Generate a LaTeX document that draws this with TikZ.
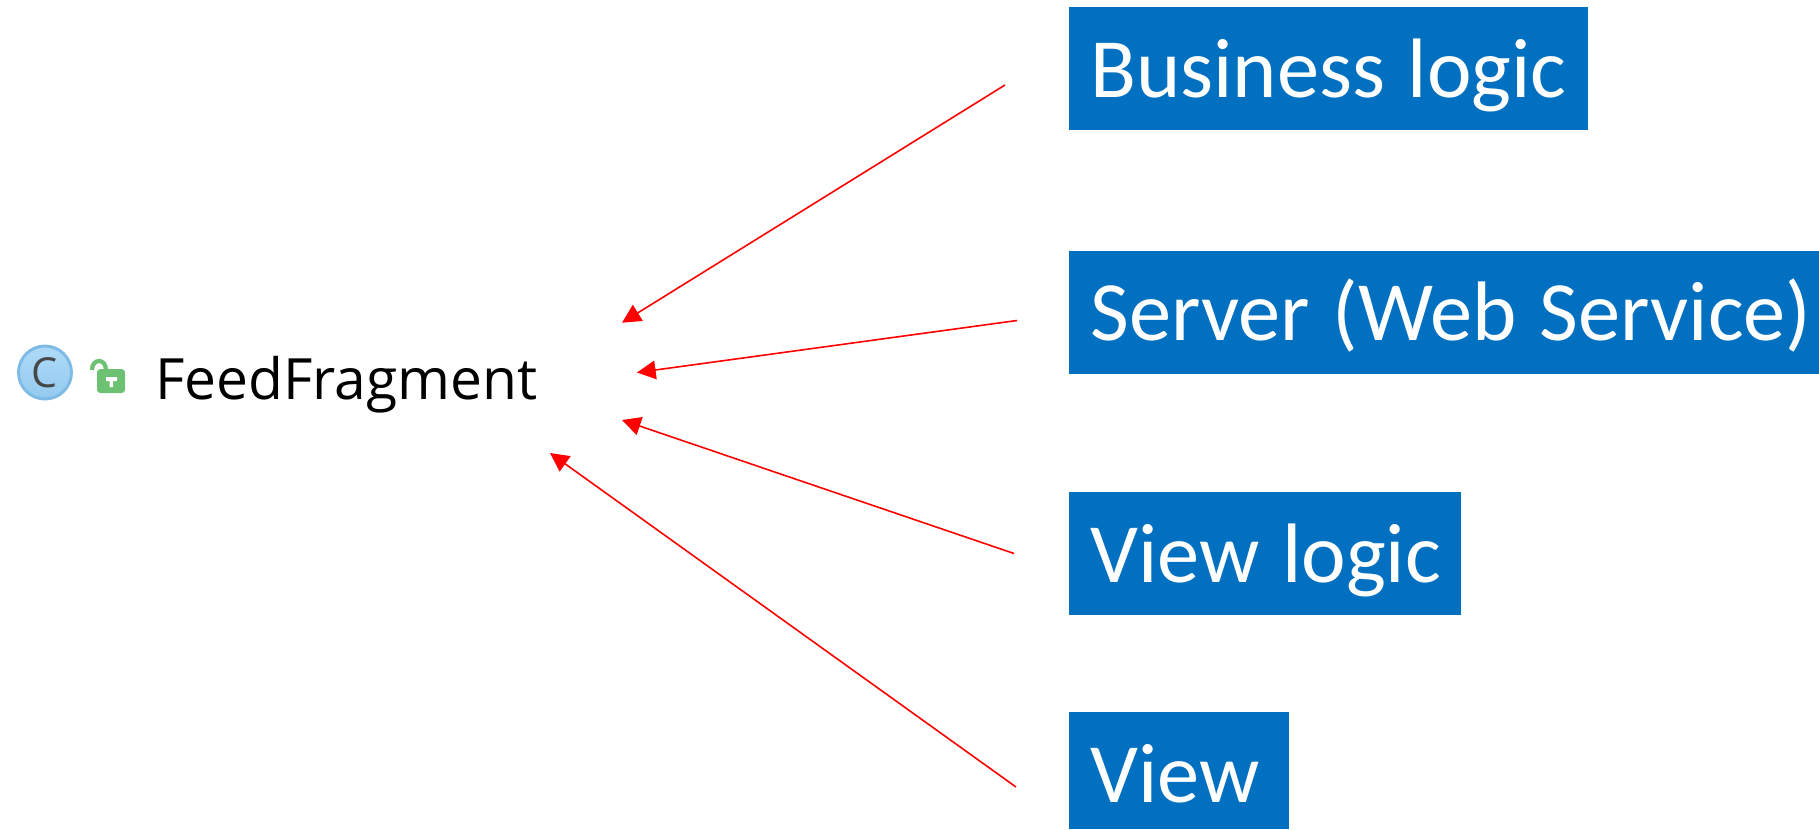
\documentclass[tikz,border=0pt]{standalone}
\usepackage{fontspec}
\setmainfont{Carlito}
\newfontfamily\uifont{Open Sans}
\usetikzlibrary{arrows.meta}
\definecolor{boxblue}{HTML}{0270C0}
\definecolor{lockgreen}{HTML}{6CC272}
\definecolor{circedge}{HTML}{7DBBE6}
\definecolor{circtop}{HTML}{AEDAF7}
\definecolor{circbot}{HTML}{94CAEF}
\newcommand{\boxtext}[1]{\mbox{\spaceskip=0.27em\relax #1}}
\tikzset{
  x=0.75pt,y=-0.75pt,
  bluebox/.style={anchor=north west,fill=boxblue,text=white,inner ysep=0pt,inner xsep=21*0.75pt,
    text height=90*0.75pt,text depth=33*0.75pt,align=left,font=\fontsize{63.3}{63}\selectfont},
  redarrow/.style={draw=red,line width=1.2pt,-{Triangle[length=14pt,width=14pt]}},
}
\begin{document}
\begin{tikzpicture}
\useasboundingbox (0,0) rectangle (1819,829);
\node[bluebox,text width=477*0.75pt] (business) at (1069,7) {\boxtext{Business logic}};
\node[bluebox,text width=708*0.75pt] (server) at (1069,250.5) {\boxtext{Server (Web Service)}};
\node[bluebox,text width=350*0.75pt] (viewlogic) at (1069,492) {\boxtext{View logic}};
\node[bluebox,text width=178*0.75pt,text depth=27*0.75pt] (view) at (1069,712) {\boxtext{View}};
\node[anchor=base west,inner sep=0pt,font=\uifont\fontsize{42.7}{43}\selectfont,text=black] (feed) at (155,399) {FeedFragment};
\node[circle,minimum size=53*0.75pt,inner sep=0pt,outer sep=0pt,draw=circedge,line width=2.2pt,top color=circtop,bottom color=circbot] (cicon) at (45,372.5) {};
\node[font=\uifont\fontsize{31}{31}\selectfont,text=black!72,inner sep=0pt] (cletter) at (cicon) {C};
\fill[lockgreen,rounded corners=2.5pt] (97,369) rectangle (125,393);
\draw[lockgreen,line width=3.2pt] (92,370) .. controls (92,358) and (106,358) .. (106,370);
\fill[white] (106,377) rectangle (117,381) (109.5,377) rectangle (113,387);
\coordinate (a1s) at (1005,85); \coordinate (a1e) at (622,322.7);
\coordinate (a2s) at (1017,320.5); \coordinate (a2e) at (637,372.5);
\coordinate (a3s) at (1014,553.5); \coordinate (a3e) at (622,420);
\coordinate (a4s) at (1016,787); \coordinate (a4e) at (550,453);
\draw[redarrow] (a1s) -- (a1e);
\draw[redarrow] (a2s) -- (a2e);
\draw[redarrow] (a3s) -- (a3e);
\draw[redarrow] (a4s) -- (a4e);
\end{tikzpicture}
\end{document}
